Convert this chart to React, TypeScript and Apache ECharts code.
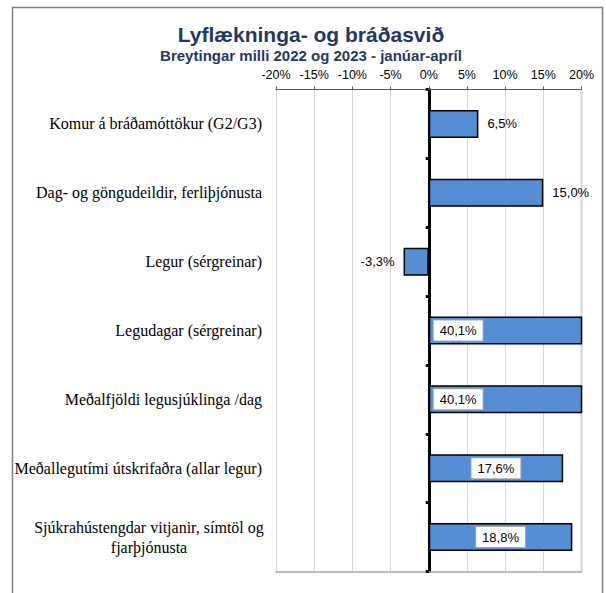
import React, { useEffect, useRef } from "react";
import * as echarts from "echarts";

const titleText = "Lyflækninga- og bráðasvið";
const subtitleText = "Breytingar milli 2022 og 2023 - janúar-apríl";
const categories = [
  "Komur á bráðamóttökur (G2/G3)",
  "Dag- og göngudeildir, ferliþjónusta",
  "Legur (sérgreinar)",
  "Legudagar (sérgreinar)",
  "Meðalfjöldi legusjúklinga /dag",
  "Meðallegutími útskrifaðra (allar legur)",
  "Sjúkrahústengdar vitjanir, símtöl og\nfjarþjónusta",
];
const changes = [6.5, 15.0, -3.3, 40.1, 40.1, 17.6, 18.8];
const labelPositions = ["right", "right", "left", "insideLeft", "insideLeft", "inside", "inside"];
const axisMin = -20;
const axisMax = 20;
const axisStep = 5;

const SERIF = "'Liberation Serif'";
const SANS = "'Liberation Sans'";

const fmt = (v: number) => v.toFixed(1).replace(".", ",") + "%";

export default function App() {
  const ref = useRef<HTMLDivElement>(null);
  useEffect(() => {
    document.body.style.margin = "0";
    if (!ref.current) return;
    const chart = echarts.init(ref.current, null, { renderer: "svg" });
    const boxedLabel = {
      backgroundColor: "#ffffff",
      borderColor: "#A6A6A6",
      borderWidth: 1,
      padding: [4, 6, 3, 6],
    };
    const data = changes.map((v, i) => {
      const pos = labelPositions[i];
      const boxed = pos !== "right" && pos !== "left";
      return {
        value: v,
        label: {
          position: pos,
          distance: boxed ? 5 : 9,
          ...(boxed ? boxedLabel : {}),
        },
      };
    });
    chart.setOption({
      animation: false,
      backgroundColor: "#ffffff",
      title: [
        {
          text: titleText,
          left: 306,
          textAlign: "center",
          top: 19,
          textStyle: {
            fontFamily: SANS,
            fontSize: 21,
            fontWeight: "bold",
            color: "#1F3864",
          },
        },
        {
          text: subtitleText,
          left: 306,
          textAlign: "center",
          top: 43,
          textStyle: {
            fontFamily: SANS,
            fontSize: 15,
            fontWeight: "bold",
            color: "#1F3864",
          },
        },
      ],
      grid: {
        left: 276,
        right: 24.5,
        top: 89.5,
        bottom: 21.5,
        containLabel: false,
        outerBoundsMode: "none",
      },
      xAxis: [
        {
          type: "value",
          position: "top",
          min: axisMin,
          max: axisMax,
          interval: axisStep,
          axisLabel: {
            formatter: (v: number) => v + "%",
            fontFamily: SANS,
            fontSize: 12.5,
            color: "#000000",
            margin: 8,
          },
          axisLine: { show: true, lineStyle: { color: "#595959", width: 1 } },
          axisTick: { show: true, length: 3, lineStyle: { color: "#595959" } },
          splitLine: { show: true, lineStyle: { color: "#D9D9D9", width: 1 } },
        },
        {
          type: "value",
          position: "bottom",
          min: axisMin,
          max: axisMax,
          interval: axisStep,
          axisLabel: { show: false },
          axisTick: { show: false },
          axisLine: { show: true, onZero: false, lineStyle: { color: "#A6A6A6", width: 1.5 } },
          splitLine: { show: false },
        },
      ],
      yAxis: {
        type: "category",
        inverse: true,
        data: categories,
        axisLine: { show: true, onZero: true, lineStyle: { color: "#000000", width: 3 } },
        axisTick: { show: true, length: 3, lineStyle: { color: "#000000", width: 3 } },
        axisLabel: {
          margin: 14,
          fontFamily: SERIF,
          fontSize: 16,
          color: "#000000",
          lineHeight: 20,
          formatter: (v: string) => {
            const parts = v.split("\n");
            if (parts.length === 1) return v;
            return parts.map((p) => "{c|" + p + "}").join("\n");
          },
          rich: {
            c: {
              width: 226,
              align: "center",
              fontFamily: SERIF,
              fontSize: 16,
              color: "#000000",
              lineHeight: 20,
            },
          },
        },
      },
      series: [
        {
          type: "bar",
          data,
          barWidth: 28,
          clip: true,
          itemStyle: { color: "#558ED5", borderColor: "#000000", borderWidth: 1.5 },
          label: {
            show: true,
            formatter: (p: any) => fmt(p.value),
            fontFamily: SANS,
            fontSize: 13,
            color: "#000000",
          },
        },
      ],
      graphic: [
        {
          type: "polyline",
          shape: {
            points: [
              [12.5, 593],
              [12.5, 7.5],
              [602.5, 7.5],
              [602.5, 593],
            ],
          },
          style: { stroke: "#7F7F7F", lineWidth: 1.5, fill: null },
          silent: true,
        },
        {
          type: "line",
          shape: { x1: 581.5, y1: 89.5, x2: 581.5, y2: 571.5 },
          style: { stroke: "#A6A6A6", lineWidth: 1.5 },
          silent: true,
        },
      ],
    });
    return () => chart.dispose();
  }, []);
  return <div ref={ref} style={{ width: 606, height: 593 }} />;
}
